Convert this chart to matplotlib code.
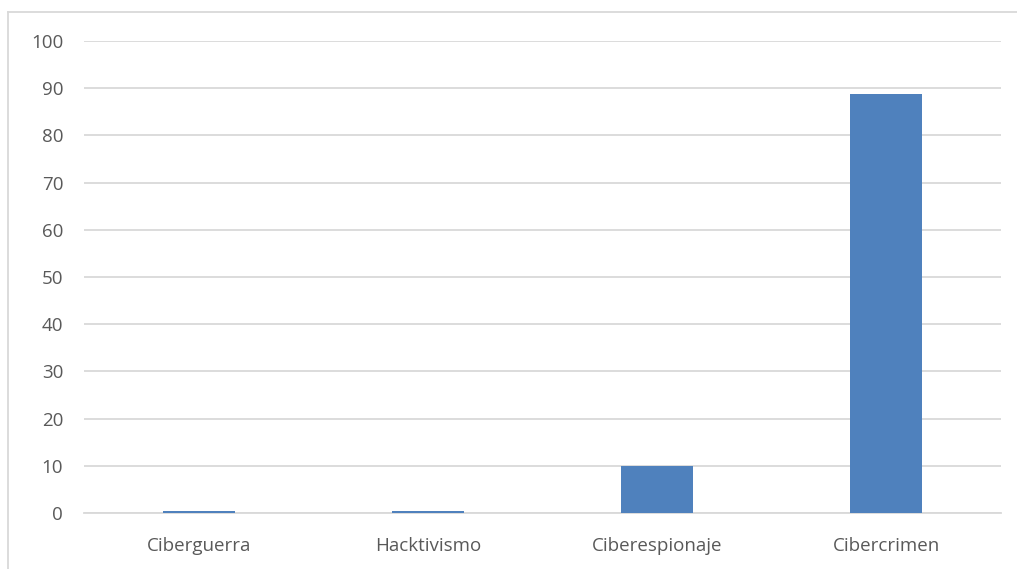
import matplotlib
matplotlib.use('Agg')
import matplotlib.pyplot as plt
from matplotlib.lines import Line2D

categories = ['Ciberguerra', 'Hacktivismo', 'Ciberespionaje', 'Cibercrimen']
values = [0.4, 0.4, 10.0, 88.7]
yticks = list(range(0, 101, 10))

plt.rcParams['font.family'] = ['Open Sans', 'DejaVu Sans']

fig = plt.figure(figsize=(10.17, 5.69), dpi=100)
ax = fig.add_axes([84/1017, 1-513/569, (1001-84)/1017, (513-41)/569])

ax.bar(range(len(categories)), values, width=0.315, color='#4F81BD', zorder=3)
ax.set_xlim(-0.5, len(categories) - 0.5)
ax.set_ylim(0, 100)
ax.set_yticks(yticks)
ax.set_xticks(range(len(categories)))
ax.set_xticklabels(categories)

ax.grid(axis='y', color='#D9D9D9', linewidth=1.3, zorder=0)
for s in ['top', 'right', 'left']:
    ax.spines[s].set_visible(False)
ax.spines['bottom'].set_color('#D9D9D9')
ax.spines['bottom'].set_linewidth(1.3)
ax.tick_params(axis='both', length=0, labelsize=13.5, labelcolor='#595959')
ax.tick_params(axis='y', pad=15)
ax.tick_params(axis='x', pad=17)

# outer chart border (cut off on right and bottom)
fig.add_artist(Line2D([7.5/1017, 7.5/1017], [0, 1-11.5/569], color='#D9D9D9', lw=1.3, transform=fig.transFigure))
fig.add_artist(Line2D([7.5/1017, 1], [1-11.5/569, 1-11.5/569], color='#D9D9D9', lw=1.3, transform=fig.transFigure))

fig.savefig('out.png', dpi=100)
